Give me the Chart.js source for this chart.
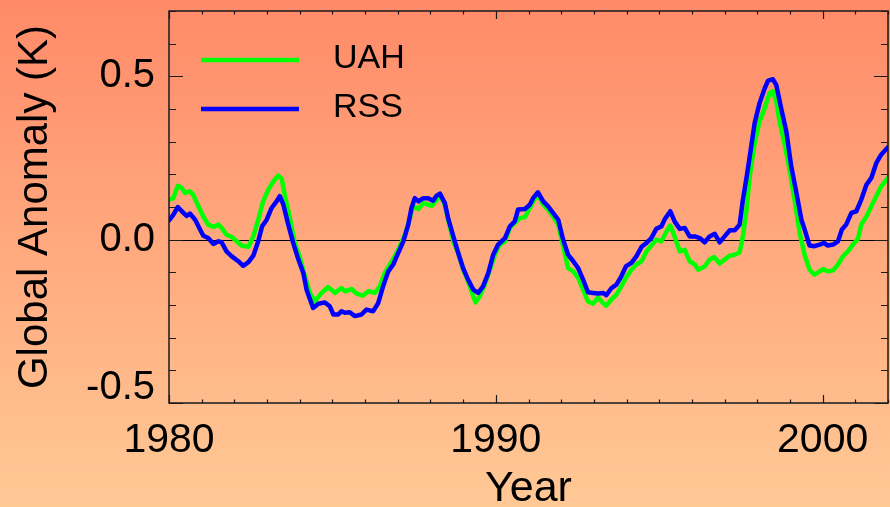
<!DOCTYPE html>
<html>
<head>
<meta charset="utf-8">
<script src="https://cdn.jsdelivr.net/npm/chart.js@4/dist/chart.umd.min.js"></script>
<style>
  html, body { margin: 0; padding: 0; overflow: hidden; background: #ffc896; }
  canvas { display: block; }
</style>
</head>
<body>
<canvas id="chart" width="890" height="507"></canvas>
<script>
// Satellite lower-troposphere global temperature anomaly, smoothed (K)
const uahYears = [
  1980.00, 1980.13, 1980.27, 1980.39, 1980.49, 1980.64, 1980.74, 1980.90, 1981.05, 1981.20,
  1981.36, 1981.51, 1981.61, 1981.76, 1981.92, 1982.07, 1982.22, 1982.43, 1982.58, 1982.73,
  1982.88, 1983.04, 1983.19, 1983.34, 1983.45, 1983.55, 1983.70, 1983.85, 1984.01, 1984.16,
  1984.31, 1984.46, 1984.67, 1984.87, 1985.08, 1985.28, 1985.38, 1985.59, 1985.74, 1985.94,
  1986.10, 1986.30, 1986.45, 1986.60, 1986.76, 1986.91, 1987.06, 1987.22, 1987.37, 1987.47,
  1987.63, 1987.78, 1987.93, 1988.05, 1988.19, 1988.29, 1988.44, 1988.54, 1988.70, 1988.85,
  1989.00, 1989.15, 1989.31, 1989.38, 1989.51, 1989.66, 1989.82, 1989.97, 1990.12, 1990.28,
  1990.43, 1990.58, 1990.73, 1990.89, 1991.04, 1991.17, 1991.29, 1991.45, 1991.60, 1991.75,
  1991.91, 1992.06, 1992.21, 1992.37, 1992.52, 1992.67, 1992.82, 1992.98, 1993.13, 1993.28,
  1993.38, 1993.54, 1993.69, 1993.84, 1993.98, 1994.15, 1994.30, 1994.46, 1994.61, 1994.76,
  1994.91, 1995.07, 1995.22, 1995.34, 1995.47, 1995.63, 1995.78, 1995.93, 1996.09, 1996.19,
  1996.39, 1996.54, 1996.68, 1996.85, 1997.00, 1997.16, 1997.31, 1997.46, 1997.56, 1997.67,
  1997.77, 1997.92, 1998.07, 1998.23, 1998.38, 1998.48, 1998.58, 1998.68, 1998.84, 1998.99,
  1999.14, 1999.30, 1999.45, 1999.60, 1999.75, 1999.91, 2000.01, 2000.16, 2000.32, 2000.47,
  2000.62, 2000.77, 2000.93, 2001.08, 2001.18, 2001.34, 2001.49, 2001.64, 2001.79, 2002.00
];
const uahValues = [
  0.122, 0.127, 0.165, 0.158, 0.143, 0.148, 0.138, 0.102, 0.071, 0.046,
  0.039, 0.046, 0.036, 0.015, 0.008, -0.005, -0.018, -0.022, 0.010, 0.061,
  0.117, 0.153, 0.178, 0.196, 0.186, 0.133, 0.066, -0.010, -0.056, -0.112,
  -0.163, -0.189, -0.163, -0.145, -0.163, -0.148, -0.158, -0.151, -0.165, -0.171,
  -0.158, -0.163, -0.143, -0.102, -0.076, -0.051, -0.020, 0.015, 0.066, 0.102,
  0.094, 0.112, 0.107, 0.104, 0.122, 0.138, 0.107, 0.061, -0.005, -0.041,
  -0.092, -0.127, -0.173, -0.192, -0.173, -0.138, -0.092, -0.046, -0.015, -0.005,
  0.036, 0.051, 0.066, 0.069, 0.097, 0.122, 0.138, 0.107, 0.092, 0.071,
  0.046, -0.020, -0.087, -0.097, -0.117, -0.153, -0.189, -0.196, -0.177, -0.194,
  -0.202, -0.183, -0.168, -0.143, -0.117, -0.092, -0.076, -0.066, -0.036, -0.018,
  0.000, -0.005, 0.025, 0.043, 0.010, -0.036, -0.031, -0.066, -0.076, -0.092,
  -0.082, -0.061, -0.053, -0.073, -0.061, -0.049, -0.046, -0.039, 0.010, 0.092,
  0.194, 0.296, 0.362, 0.403, 0.449, 0.454, 0.423, 0.362, 0.291, 0.214,
  0.122, 0.020, -0.046, -0.092, -0.107, -0.097, -0.090, -0.097, -0.094, -0.076,
  -0.051, -0.036, -0.015, 0.002, 0.046, 0.071, 0.102, 0.133, 0.163, 0.189
];

const rssYears = [
  1980.00, 1980.13, 1980.27, 1980.39, 1980.54, 1980.64, 1980.80, 1980.95, 1981.05, 1981.20,
  1981.36, 1981.51, 1981.61, 1981.76, 1981.92, 1982.12, 1982.27, 1982.43, 1982.58, 1982.73,
  1982.85, 1982.99, 1983.14, 1983.29, 1983.39, 1983.50, 1983.65, 1983.80, 1983.96, 1984.11,
  1984.21, 1984.41, 1984.57, 1984.77, 1984.92, 1985.03, 1985.18, 1985.28, 1985.38, 1985.53,
  1985.69, 1985.89, 1986.04, 1986.25, 1986.40, 1986.55, 1986.71, 1986.86, 1987.01, 1987.17,
  1987.32, 1987.42, 1987.52, 1987.63, 1987.78, 1987.93, 1988.08, 1988.19, 1988.29, 1988.44,
  1988.54, 1988.70, 1988.85, 1989.00, 1989.15, 1989.31, 1989.46, 1989.61, 1989.77, 1989.92,
  1990.07, 1990.28, 1990.43, 1990.58, 1990.68, 1990.89, 1991.04, 1991.14, 1991.29, 1991.45,
  1991.60, 1991.75, 1991.91, 1992.06, 1992.21, 1992.37, 1992.52, 1992.67, 1992.82, 1992.98,
  1993.13, 1993.28, 1993.38, 1993.54, 1993.69, 1993.84, 1993.98, 1994.15, 1994.30, 1994.46,
  1994.61, 1994.76, 1994.91, 1995.07, 1995.17, 1995.34, 1995.47, 1995.63, 1995.78, 1995.93,
  1996.09, 1996.24, 1996.39, 1996.54, 1996.70, 1996.85, 1997.00, 1997.16, 1997.31, 1997.46,
  1997.56, 1997.67, 1997.77, 1997.92, 1998.07, 1998.23, 1998.33, 1998.48, 1998.58, 1998.74,
  1998.89, 1999.04, 1999.19, 1999.35, 1999.45, 1999.60, 1999.75, 1999.91, 2000.04, 2000.16,
  2000.32, 2000.47, 2000.59, 2000.72, 2000.88, 2001.03, 2001.18, 2001.34, 2001.49, 2001.64,
  2001.79, 2002.00
];
const rssValues = [
  0.059, 0.076, 0.100, 0.087, 0.073, 0.080, 0.061, 0.031, 0.012, 0.005,
  -0.013, -0.005, -0.008, -0.036, -0.051, -0.066, -0.080, -0.069, -0.049, -0.005,
  0.041, 0.061, 0.097, 0.117, 0.133, 0.107, 0.046, -0.010, -0.061, -0.102,
  -0.153, -0.209, -0.196, -0.192, -0.204, -0.229, -0.229, -0.219, -0.224, -0.222,
  -0.234, -0.229, -0.214, -0.219, -0.194, -0.143, -0.097, -0.076, -0.041, -0.005,
  0.046, 0.097, 0.127, 0.117, 0.127, 0.127, 0.119, 0.135, 0.141, 0.112,
  0.066, 0.010, -0.041, -0.087, -0.122, -0.153, -0.163, -0.143, -0.102, -0.046,
  -0.015, 0.005, 0.041, 0.056, 0.092, 0.094, 0.107, 0.127, 0.145, 0.117,
  0.102, 0.082, 0.061, 0.000, -0.046, -0.066, -0.087, -0.122, -0.161, -0.163,
  -0.165, -0.163, -0.170, -0.148, -0.138, -0.112, -0.082, -0.071, -0.051, -0.022,
  -0.010, 0.005, 0.033, 0.041, 0.063, 0.087, 0.056, 0.033, 0.036, 0.010,
  0.010, 0.005, -0.008, 0.010, 0.018, -0.008, 0.010, 0.029, 0.029, 0.046,
  0.122, 0.189, 0.255, 0.357, 0.418, 0.464, 0.487, 0.491, 0.474, 0.398,
  0.331, 0.224, 0.148, 0.061, 0.031, -0.018, -0.020, -0.015, -0.010, -0.018,
  -0.015, -0.005, 0.031, 0.046, 0.082, 0.087, 0.122, 0.168, 0.189, 0.234,
  0.260, 0.283
];

const seriesNames = ['UAH', 'RSS'];
const seriesColors = ['#00ff00', '#0000ff'];
const xTickLabels = [1980, 1990, 2000];
const yTickLabels = [-0.5, 0.0, 0.5];
const xRange = [1980, 2002];
const yRange = [-0.5, 0.7];

const FONT = '"Liberation Sans", Arial, Helvetica, sans-serif';

function toPoints(xs, ys) {
  return xs.map((t, i) => ({ x: t, y: ys[i] }));
}

// Warm vertical gradient behind the whole figure
const backdrop = {
  id: 'backdrop',
  beforeDraw(chart) {
    const { ctx, width, height } = chart;
    const g = ctx.createLinearGradient(0, 0, 0, height);
    g.addColorStop(0, 'rgb(255,138,104)');
    g.addColorStop(1, 'rgb(255,201,150)');
    ctx.save();
    ctx.fillStyle = g;
    ctx.fillRect(0, 0, width, height);
    ctx.restore();
  }
};

// Thin reference line at zero anomaly, under the curves
const zeroLine = {
  id: 'zeroLine',
  beforeDatasetsDraw(chart) {
    const { ctx, chartArea: a, scales: { y } } = chart;
    const py = Math.round(y.getPixelForValue(0)) + 0.5;
    ctx.save();
    ctx.strokeStyle = '#000';
    ctx.lineWidth = 1.2;
    ctx.beginPath();
    ctx.moveTo(a.left, py);
    ctx.lineTo(a.right, py);
    ctx.stroke();
    ctx.restore();
  }
};

// Box frame with inward ticks, y labels and the in-plot legend
const frame = {
  id: 'frame',
  afterDatasetsDraw(chart) {
    const { ctx, chartArea: a, scales: { x, y } } = chart;
    ctx.save();
    ctx.strokeStyle = '#1a1a1a';
    ctx.lineWidth = 1.5;
    ctx.strokeRect(a.left, a.top, a.right - a.left, a.bottom - a.top);

    ctx.lineWidth = 1.2;
    ctx.beginPath();
    for (let yr = x.min; yr <= x.max; yr++) {
      const px = Math.round(x.getPixelForValue(yr)) + 0.5;
      const len = yr % 10 === 0 ? 8 : 3.5;
      ctx.moveTo(px, a.bottom); ctx.lineTo(px, a.bottom - len);
      ctx.moveTo(px, a.top); ctx.lineTo(px, a.top + len);
    }
    const lo = Math.round(y.min * 10), hi = Math.round(y.max * 10);
    for (let i = lo; i <= hi; i++) {
      const py = Math.round(y.getPixelForValue(i / 10)) + 0.5;
      const len = i % 5 === 0 ? 14 : 7;
      ctx.moveTo(a.left, py); ctx.lineTo(a.left + len, py);
      ctx.moveTo(a.right, py); ctx.lineTo(a.right - len, py);
    }
    ctx.stroke();

    ctx.fillStyle = '#000';
    ctx.font = '40px ' + FONT;
    ctx.textAlign = 'right';
    ctx.textBaseline = 'middle';
    yTickLabels.forEach(v => {
      const py = Math.min(y.getPixelForValue(v), a.bottom - 15);
      ctx.fillText(v.toFixed(1), a.left - 14, py);
    });

    // legend
    ctx.font = '34px ' + FONT;
    ctx.textAlign = 'left';
    ctx.textBaseline = 'alphabetic';
    seriesNames.forEach((name, i) => {
      const ly = a.top + 49 + i * 49;
      ctx.strokeStyle = seriesColors[i];
      ctx.lineWidth = 4.5;
      ctx.beginPath();
      ctx.moveTo(a.left + 32, ly);
      ctx.lineTo(a.left + 130, ly);
      ctx.stroke();
      ctx.fillText(name, a.left + 164, ly + 8);
    });
    ctx.restore();
  }
};

new Chart(document.getElementById('chart'), {
  type: 'line',
  data: {
    datasets: [
      {
        label: seriesNames[0],
        data: toPoints(uahYears, uahValues),
        borderColor: seriesColors[0],
        borderWidth: 4.5,
        borderJoinStyle: 'round',
        borderCapStyle: 'round',
        pointRadius: 0,
        tension: 0,
        order: 1
      },
      {
        label: seriesNames[1],
        data: toPoints(rssYears, rssValues),
        borderColor: seriesColors[1],
        borderWidth: 4.5,
        borderJoinStyle: 'round',
        borderCapStyle: 'round',
        pointRadius: 0,
        tension: 0,
        order: 0
      }
    ]
  },
  options: {
    responsive: false,
    animation: false,
    devicePixelRatio: 1,
    layout: { padding: { top: 11, right: 2, left: 0, bottom: 0 } },
    plugins: { legend: { display: false }, tooltip: { enabled: false } },
    scales: {
      x: {
        type: 'linear',
        min: xRange[0],
        max: xRange[1],
        afterBuildTicks: s => { s.ticks = xTickLabels.map(v => ({ value: v })); },
        afterFit: s => { s.height = 104; },
        grid: { display: false, drawTicks: false },
        border: { display: false },
        ticks: {
          color: '#000',
          font: { family: FONT, size: 41 },
          padding: 13,
          maxRotation: 0,
          autoSkip: false,
          callback: v => String(v)
        },
        title: {
          display: true,
          text: 'Year',
          color: '#000',
          font: { family: FONT, size: 43, lineHeight: 0.85 },
          padding: 0
        }
      },
      y: {
        type: 'linear',
        min: yRange[0],
        max: yRange[1],
        afterBuildTicks: s => { s.ticks = yTickLabels.map(v => ({ value: v })); },
        afterFit: s => { s.width = 169; },
        grid: { display: false, drawTicks: false },
        border: { display: false },
        ticks: { display: false },
        title: {
          display: true,
          text: 'Global Anomaly (K)',
          color: '#000',
          font: { family: FONT, size: 42, lineHeight: 1.2 },
          padding: { top: 10, bottom: 0 }
        }
      }
    }
  },
  plugins: [backdrop, zeroLine, frame]
});
</script>
</body>
</html>
